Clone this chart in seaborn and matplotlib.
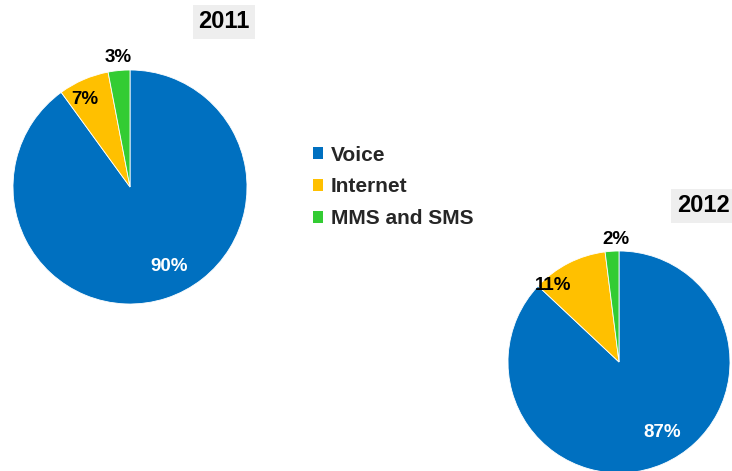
import numpy as np
import matplotlib
matplotlib.use("Agg")
import matplotlib.pyplot as plt
import matplotlib.patches as mpatches
import seaborn as sns

categories = ["Voice", "Internet", "MMS and SMS"]
years = ["2011", "2012"]
shares_2011 = [90, 7, 3]
shares_2012 = [87, 11, 2]
labels_2011 = ["90%", "7%", "3%"]
labels_2012 = ["87%", "11%", "2%"]

sns.set_theme(style="white")
plt.rcParams['font.family'] = ['Liberation Sans', 'DejaVu Sans']
colors = sns.color_palette(["#0070C0", "#FFC000", "#33CC33"])

W, H = 732, 471
fig = plt.figure(figsize=(W / 100, H / 100), dpi=100)

def add_pie(cx, cy, r, values, labels, year, label_pos, label_colors, title_xy):
    ax = fig.add_axes([(cx - r) / W, 1 - (cy + r) / H, 2 * r / W, 2 * r / H])
    wedges, _ = ax.pie(values, colors=colors, startangle=90, counterclock=False,
                       wedgeprops=dict(linewidth=0.6, edgecolor="white"))
    ax.set_xlim(-1, 1)
    ax.set_ylim(-1, 1)
    ax.set_aspect("equal")
    ax.axis("off")
    for w, lab, (dr, dang), c in zip(wedges, labels, label_pos, label_colors):
        mid = np.deg2rad((w.theta1 + w.theta2) / 2 + dang)
        ax.text(dr * np.cos(mid), dr * np.sin(mid), lab, ha="center", va="center",
                fontsize=13.5, fontweight="bold", color=c, clip_on=False)
    fig.text(title_xy[0] / W, 1 - title_xy[1] / H, year, ha="center", va="center",
             fontsize=17, fontweight="bold", color="black",
             bbox=dict(boxstyle="square,pad=0.22", facecolor="#EEEEEE", edgecolor="none"))
    return wedges

add_pie(130, 187, 117, shares_2011, labels_2011, years[0],
        [(0.76, 8), (0.84, 4), (1.11, 0)], ["white", "black", "black"], (224, 22))
add_pie(619, 362, 111, shares_2012, labels_2012, years[1],
        [(0.74, 8), (0.91, 14), (1.10, -2)], ["white", "black", "black"], (703, 206))

handles = [mpatches.Patch(facecolor=c, edgecolor="none", label=l) for c, l in zip(colors, categories)]
fig.legend(handles=handles, loc="center left", bbox_to_anchor=(313 / W, 1 - 187 / H),
           frameon=False, prop=dict(size=15, weight="bold"),
           handlelength=0.5, handleheight=0.5, handletextpad=0.35, labelspacing=0.62,
           borderaxespad=0, borderpad=0)

fig.savefig("out.png", dpi=100, facecolor="white")
